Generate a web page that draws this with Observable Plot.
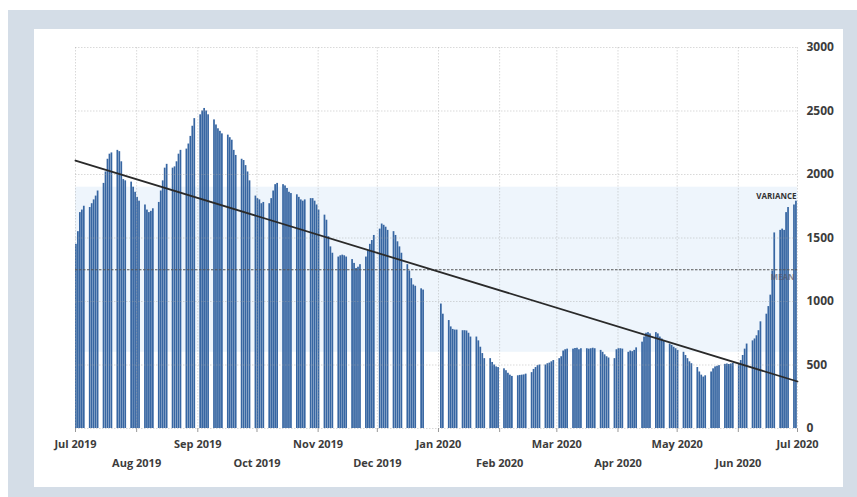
<!DOCTYPE html>
<html><head><meta charset="utf-8">
<script src="https://cdn.jsdelivr.net/npm/d3@7"></script>
<script src="https://cdn.jsdelivr.net/npm/@observablehq/plot@0.6"></script>
<style>
html,body{margin:0;padding:0;background:#fff;width:857px;height:497px;overflow:hidden;}
#frame{position:absolute;left:8px;top:10px;width:849px;height:487px;background:#d4dde7;}
#panel{position:absolute;left:34px;top:29px;width:809px;height:458px;background:#fff;}
#chart{position:absolute;left:0;top:0;}
</style></head><body>
<div id="frame"></div><div id="panel"></div><div id="chart"></div>
<script>
// first weekday of the series and the x domain
const startDate = "2019-07-01";
const endDate = "2020-07-01";
// one value per weekday (Mon..Fri), null = no trading
const dailyValues = [
  1450,1550,1700,1720,1750, 1740,1770,1800,1830,1870, 1930,2020,2120,2160,2170,
  2190,2180,2100,1960,1950, 1940,1900,1860,1820,1790, 1760,1720,1700,1710,1730,
  1780,1870,1950,2050,2080, 2050,2060,2100,2160,2190, 2200,2240,2300,2380,2440,
  2470,2500,2520,2500,2470, 2430,2390,2360,2340,2320, 2310,2290,2270,2190,2150,
  2120,2110,2070,2020,1950, 1830,1810,1800,1770,1780, 1770,1810,1870,1920,1930,
  1920,1910,1890,1860,1850, 1840,1820,1800,1790,1800, 1810,1810,1790,1760,1720,
  1680,1640,1510,1430,1380, 1350,1360,1365,1360,1350, 1330,1300,1260,1270,1290,
  1350,1400,1450,1480,1520, 1570,1610,1600,1585,1560, 1550,1520,1470,1430,1380,
  1290,1240,1180,1130,1120, 1100,1090,null,null,null, null,null,null,980,900,
  850,800,780,775,775, 770,770,768,750,720, 720,690,640,590,550,
  550,520,500,485,480, 470,455,435,420,410, 415,418,420,422,428,
  440,465,480,495,500, 500,510,515,525,535, 550,565,610,620,625,
  625,630,632,620,628, 628,625,628,632,628, 615,600,580,565,555,
  550,620,628,628,625, 600,610,605,615,635, 680,720,750,755,745,
  755,745,720,705,690, 665,655,640,628,615, 600,575,550,525,510,
  480,445,420,405,415, 445,470,485,490,495, 505,508,504,508,512,
  510,535,575,625,665, 690,705,730,770,840, 900,960,1050,1240,1540,
  1560,1570,1560,1700,1740, 1760,1790
];
const monthTicks = ["2019-07-01","2019-08-01","2019-09-01","2019-10-01","2019-11-01","2019-12-01",
  "2020-01-01","2020-02-01","2020-03-01","2020-04-01","2020-05-01","2020-06-01","2020-07-01"];
const yTicks = [0,500,1000,1500,2000,2500,3000];
const meanValue = 1250;
const varianceLow = 600, varianceHigh = 1900;
const trendValues = [2110, 370];
const labels = ["VARIANCE", "MEAN"];

const parse = d3.utcParse("%Y-%m-%d");
const x0 = parse(startDate), xEnd = parse(endDate);
const months = monthTicks.map(parse);
const rowA = months.filter((d,i)=>i%2===0);
const rowB = months.filter((d,i)=>i%2===1);

// build table of weekday dates
const rows = [];
let day = x0;
for (const v of dailyValues) {
  while (day.getUTCDay() === 0 || day.getUTCDay() === 6) day = d3.utcDay.offset(day, 1);
  if (v !== null) rows.push({x1: day, x2: d3.utcDay.offset(day, 1), v});
  day = d3.utcDay.offset(day, 1);
}
const lastDay = rows[rows.length-1].x2;

const fmt = d3.utcFormat("%b %Y");
const chart = Plot.plot({
  width: 857, height: 497,
  marginLeft: 75, marginRight: 60, marginTop: 47, marginBottom: 69,
  style: {fontFamily: "'Open Sans', sans-serif", fontSize: "11px", fontWeight: 600, color: "#3c3c3c", background: "transparent", overflow: "visible"},
  x: {type: "utc", domain: [x0, xEnd]},
  y: {domain: [0, 3000]},
  marks: [
    Plot.rect([0], {x1: () => x0, x2: () => xEnd, y1: () => varianceLow, y2: () => varianceHigh, fill: "#eef5fc"}),
    Plot.rectY(rows, {x1: "x1", x2: "x2", y: "v", fill: "#3766a2", insetLeft: 0.05, insetRight: 0.2}),
    Plot.gridY(yTicks, {stroke: "#a0a0a0", strokeOpacity: 0.4, strokeDasharray: "1.5,1.5"}),
    Plot.gridX(months, {stroke: "#a0a0a0", strokeOpacity: 0.4, strokeDasharray: "1.5,1.5"}),
    Plot.ruleY([meanValue], {stroke: "#555", strokeDasharray: "2.5,1.5", strokeWidth: 1}),
    Plot.line(trendValues.map((v,i)=>({d: i===0 ? x0 : xEnd, v})), {x: "d", y: "v", stroke: "#2a2a2a", strokeWidth: 1.8}),
    Plot.text([labels[0]], {x: () => lastDay, y: () => 1830, text: d => d, textAnchor: "end", fontSize: 8, fontWeight: 700, fill: "#333", dx: -1}),
    Plot.text([labels[1]], {x: () => lastDay, y: () => 1190, text: d => d, textAnchor: "end", fontSize: 8, fontWeight: 700, fill: "#556", fillOpacity: 0.7, dx: -3}),
    Plot.axisY(yTicks, {anchor: "right", tickSize: 0, tickPadding: 9, label: null, fontWeight: 700, fontSize: 12, tickFormat: d3.format("d")}),
    Plot.axisX(months, {tickSize: 4, tickFormat: () => "", label: null, stroke: "#999"}),
    Plot.axisX(rowA, {tickSize: 0, tickPadding: 12, tickFormat: fmt, label: null, fontWeight: 700}),
    Plot.axisX(rowB, {tickSize: 0, tickPadding: 31, tickFormat: fmt, label: null, fontWeight: 700})
  ]
});
document.getElementById("chart").append(chart);
</script>
</body></html>
